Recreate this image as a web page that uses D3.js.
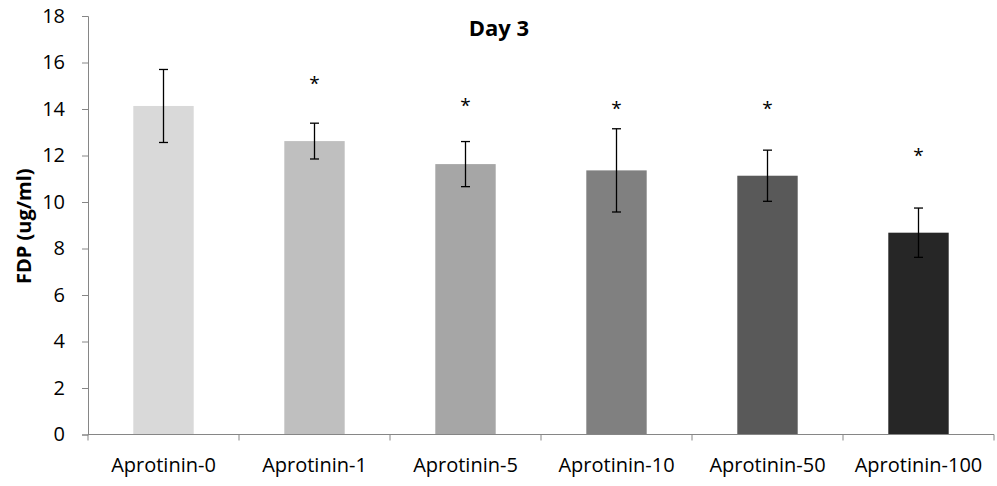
<!DOCTYPE html>
<html>
<head>
<meta charset="utf-8">
<script src="https://cdn.jsdelivr.net/npm/d3@7"></script>
<style>
  body { margin: 0; background: #fff; }
  svg text { font-family: "Open Sans", "Liberation Sans", sans-serif; }
</style>
</head>
<body>
<script>
const WIDTH = 997, HEIGHT = 486;
const margin = {top: 16, right: 3, bottom: 51.5, left: 88};

// data
const categories = ["Aprotinin-0", "Aprotinin-1", "Aprotinin-5", "Aprotinin-10", "Aprotinin-50", "Aprotinin-100"];
const means = [14.13, 12.62, 11.63, 11.36, 11.13, 8.68];
const errors = [1.57, 0.77, 0.97, 1.79, 1.10, 1.06];
const starAt = [null, 15.25, 14.31, 14.17, 14.17, 12.16];
const barColors = ["#d9d9d9", "#bfbfbf", "#a6a6a6", "#808080", "#595959", "#262626"];
const yTicks = [0, 2, 4, 6, 8, 10, 12, 14, 16, 18];

const svg = d3.select("body").append("svg")
    .attr("width", WIDTH)
    .attr("height", HEIGHT);

const x = d3.scaleBand().domain(categories)
    .range([margin.left, WIDTH - margin.right])
    .paddingInner(0.6).paddingOuter(0.3);
// category band edges for tick marks
const xb = d3.scaleBand().domain(categories)
    .range([margin.left, WIDTH - margin.right]);
const y = d3.scaleLinear().domain([0, 18]).range([HEIGHT - margin.bottom, margin.top]);

const axisColor = "#868686";

// y axis
const yAxis = svg.append("g")
    .attr("transform", `translate(${margin.left},0)`)
    .call(d3.axisLeft(y).tickValues(yTicks).tickSize(6).tickPadding(17));
yAxis.select(".domain").attr("stroke", axisColor);
yAxis.selectAll(".tick line").attr("stroke", axisColor);
yAxis.selectAll("text").attr("font-size", 20).attr("fill", "#000");

// bars
svg.append("g").selectAll("rect")
    .data(means)
    .join("rect")
    .attr("x", (d, i) => x(categories[i]))
    .attr("width", x.bandwidth())
    .attr("y", d => y(d))
    .attr("height", d => y(0) - y(d))
    .attr("fill", (d, i) => barColors[i]);

// x axis
const xAxisG = svg.append("g")
    .attr("transform", `translate(0,${y(0)})`);
xAxisG.append("line")
    .attr("x1", margin.left).attr("x2", WIDTH - margin.right)
    .attr("stroke", axisColor);
xAxisG.selectAll("line.tk")
    .data(categories.concat(["end"]))
    .join("line")
    .attr("class", "tk")
    .attr("x1", (d, i) => i < categories.length ? xb(d) : xb.range()[1])
    .attr("x2", (d, i) => i < categories.length ? xb(d) : xb.range()[1])
    .attr("y1", 0).attr("y2", 6)
    .attr("stroke", axisColor);
xAxisG.selectAll("text")
    .data(categories)
    .join("text")
    .attr("x", d => x(d) + x.bandwidth() / 2)
    .attr("y", 37)
    .attr("text-anchor", "middle")
    .attr("font-size", 20)
    .text(d => d);

// error bars
const eb = svg.append("g").attr("stroke", "#000").attr("stroke-width", 1.3);
means.forEach((m, i) => {
    const cx = x(categories[i]) + x.bandwidth() / 2;
    const top = y(m + errors[i]), bot = y(m - errors[i]);
    eb.append("line").attr("x1", cx).attr("x2", cx).attr("y1", top).attr("y2", bot);
    eb.append("line").attr("x1", cx - 4.5).attr("x2", cx + 4.5).attr("y1", top).attr("y2", top);
    eb.append("line").attr("x1", cx - 4.5).attr("x2", cx + 4.5).attr("y1", bot).attr("y2", bot);
});

// significance stars
svg.append("g").selectAll("text")
    .data(starAt.map((v, i) => ({v, c: categories[i]})).filter(d => d.v !== null))
    .join("text")
    .attr("x", d => x(d.c) + x.bandwidth() / 2)
    .attr("y", d => y(d.v) + 10)
    .attr("text-anchor", "middle")
    .attr("font-size", 19)
    .text("*");

// title
svg.append("text")
    .attr("x", 499)
    .attr("y", 36)
    .attr("text-anchor", "middle")
    .attr("font-size", 22)
    .attr("font-weight", "bold")
    .text("Day 3");

// y label
svg.append("text")
    .attr("transform", `translate(31,${(y(0) + y(18)) / 2 + 1}) rotate(-90)`)
    .attr("text-anchor", "middle")
    .attr("font-size", 20)
    .attr("font-weight", "bold")
    .text("FDP (ug/ml)");
</script>
</body>
</html>
